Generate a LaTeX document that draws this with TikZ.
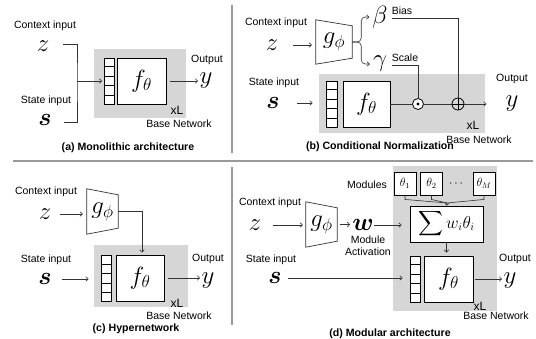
\documentclass[tikz,border=0pt]{standalone}
\usepackage{fontspec}
\setmainfont{Liberation Sans}
\usepackage{amsmath,bm}
\usetikzlibrary{arrows.meta,calc}

\tikzset{
  lbl/.style={font=\fontsize{10.5}{12}\selectfont, inner sep=0pt},
  capt/.style={font=\bfseries\fontsize{10.6}{12}\selectfont, inner sep=0pt},
  xlmark/.style={font=\fontsize{12}{14}\selectfont, inner sep=0pt},
  bigsym/.style={font=\fontsize{25}{30}\selectfont, inner sep=0pt},
  midsym/.style={font=\fontsize{23}{27}\selectfont, inner sep=0pt},
  basebg/.style={fill=black!16, draw=none},
  funcbox/.style={draw, fill=white, line width=0.9pt, inner sep=0pt,
    minimum width=48pt, minimum height=46pt, font=\fontsize{23}{27}\selectfont},
  layerstack/.style={draw, fill=white, line width=0.9pt, inner sep=0pt,
    minimum width=10pt, minimum height=46pt},
  modbox/.style={draw, fill=white, line width=0.9pt, inner sep=0pt,
    minimum width=22pt, minimum height=23pt, font=\fontsize{12}{14}\selectfont},
  gnode/.style={draw=none, inner sep=0pt, minimum height=44pt,
    font=\fontsize{23}{27}\selectfont},
  conn/.style={line width=0.6pt, draw=black!80},
  arr/.style={conn, -{To[length=3pt,width=5pt]}},
  divider/.style={line width=1.2pt, draw=black!40},
}

% separators of a five-cell layer stack
\newcommand{\cellrows}[1]{%
  \foreach \ci in {1,...,4}{%
    \draw[line width=0.9pt] ($(#1.north west)!\ci/5!(#1.south west)$) --
      ($(#1.north east)!\ci/5!(#1.south east)$);}}
% trapezoid outline around an encoder node
\newcommand{\trap}[1]{%
  \draw[line width=0.7pt, draw=black!80] (#1.north west) -- ($(#1.north east)+(0,6)$) --
    ($(#1.south east)+(0,-6)$) -- (#1.south west) -- cycle;}

\begin{document}
\begin{tikzpicture}[x=1pt,y=-1pt]
\fill[white] (0,0) rectangle (536,339);
\useasboundingbox (0,0) rectangle (536,339);

% ---------- dividers ----------
\draw[divider] (13,161) -- (533,161);
\draw[divider] (232,5) -- (232,153);
\draw[divider] (232,167) -- (232,325);

% ---------- (a) monolithic ----------
\fill[basebg] (94,49) rectangle (186,118);
\node[layerstack] (la) at (109,81) {};
\cellrows{la}
\node[funcbox, minimum width=49pt] (fa) at (141.5,81) {$f_\theta$};
\node[lbl] (cia) at (45,26) {Context input};
\node[bigsym] (za) at (43,46) {$z$};
\node[lbl] (sia) at (46,101) {State input};
\node[bigsym] (sa) at (45,120) {$\boldsymbol{s}$};
\coordinate (ja) at (77,81);
\draw[conn] ($(za.east)+(14,-2)$) -| (ja) |- ($(sa.east)+(12,2)$);
\draw[arr, shorten >=1.5pt] (ja) -- (la.west);
\node[lbl] (oa) at (207,60) {Output};
\node[bigsym] (ya) at (206,81) {$y$};
\draw[arr, shorten <=4pt, shorten >=1.5pt] (fa.east) -- (ya.west);
\node[xlmark] (xla) at (177,110) {xL};
\node[lbl] (bna) at (179,124) {Base Network};
\node[capt] (capa) at (128,148) {(a) Monolithic architecture};

% ---------- (b) conditional normalization ----------
\fill[basebg] (319,74) rectangle (485,133);
\node[lbl] (cib) at (276,23) {Context input};
\node[bigsym] (zb) at (272,45) {$z$};
\node[gnode, minimum width=36pt] (gb) at (334,42) {$g_\phi$};
\trap{gb}
\draw[arr, shorten <=15pt, shorten >=4pt] (zb.east) -- (zb.east -| gb.west);
\node[midsym] (beta) at (380,17) {$\beta$};
\node[midsym] (gam) at (380,64) {$\gamma$};
\draw[arr, rounded corners=4pt, shorten >=3pt] (gb.east) -- ++(9,0) |- (beta.west);
\draw[arr, rounded corners=4pt, shorten >=3pt] (gb.east) -- ++(9,0) |- (gam.west);
\node[layerstack, minimum width=11pt] (lb) at (331.5,104) {};
\cellrows{lb}
\node[funcbox, minimum width=47pt] (fb) at (366.5,104) {$f_\theta$};
\node[circle, draw, fill=white, line width=0.8pt, minimum size=11pt, inner sep=0pt] (odot) at (418,104) {};
\fill (odot.center) circle (1.6);
\node[circle, draw, line width=0.8pt, minimum size=12pt, inner sep=0pt] (oplus) at (458,104) {};
\draw[line width=0.8pt] (oplus.north) -- (oplus.south) (oplus.west) -- (oplus.east);
\node[lbl] (bias) at (402,11) {Bias};
\node[lbl] (scale) at (405,58) {Scale};
\draw[conn] ($(bias.south west)+(0,3.5)$) -| (oplus.north);
\draw[conn] ($(scale.south west)+(0,3.5)$) -| (odot.north);
\draw[conn] (fb.east) -- (odot.west);
\draw[conn] (odot.east) -- (oplus.west);
\node[lbl] (ob) at (512,79) {Output};
\node[bigsym] (yb) at (512,104) {$y$};
\draw[arr, shorten >=19pt] (oplus.east) -- (yb.west);
\node[lbl] (sib) at (274,83) {State input};
\node[bigsym] (sb) at (273,103) {$\boldsymbol{s}$};
\draw[arr, shorten <=17pt, shorten >=13pt] (sb.east) -- (sb.east -| lb.west);
\node[xlmark] (xlb) at (473,125) {xL};
\node[lbl] (bnb) at (479,140) {Base Network};
\node[capt] (capb) at (380,147) {(b) Conditional Normalization};

% ---------- (c) hypernetwork ----------
\fill[basebg] (94,245) rectangle (188,307);
\node[lbl] (cic) at (46,192) {Context input};
\node[bigsym] (zc) at (45,214) {$z$};
\node[gnode, minimum width=31pt, minimum height=45pt] (gc) at (102.5,211.5) {$g_\phi$};
\trap{gc}
\draw[arr, shorten <=9pt, shorten >=4pt] (zc.east) -- (zc.east -| gc.west);
\node[layerstack] (lc) at (106,278.5) {};
\cellrows{lc}
\node[funcbox] (fc) at (140,278) {$f_\theta$};
\draw[arr, shorten >=2pt] (gc.east) -| ($(fc.north)+(2,0)$);
\node[lbl] (oc) at (208,258.5) {Output};
\node[bigsym] (yc) at (208,281) {$y$};
\draw[arr, shorten <=4pt, shorten >=1.5pt] (fc.east) -- (fc.east -| yc.west);
\node[lbl] (sic) at (46,260) {State input};
\node[bigsym] (sc) at (45,279) {$\boldsymbol{s}$};
\draw[arr, shorten <=10pt, shorten >=12pt] (sc.east) -- (sc.east -| lc.west);
\node[xlmark] (xlc) at (177,303) {xL};
\node[lbl] (bnc) at (179,316) {Base Network};
\node[capt] (capc) at (136,329) {(c) Hypernetwork};

% ---------- (d) modular ----------
\fill[basebg] (393,166) rectangle (497,311);
\node[modbox] (m1) at (405,183.5) {$\theta_1$};
\node[modbox] (m2) at (431.5,183.5) {$\theta_2$};
\node[inner sep=0pt, font=\fontsize{12}{14}\selectfont] (mdots) at (457,184) {$\cdots$};
\node[modbox] (mM) at (484,183.5) {$\theta_M$};
\node[lbl] (modl) at (367,185) {Modules};
\node[draw, fill=white, line width=0.9pt, inner sep=0pt, minimum width=73pt,
  minimum height=36pt, font=\fontsize{16}{19}\selectfont] (sum) at (446.5,224)
  {$\displaystyle\sum w_i\theta_i$};
\coordinate (mj) at (447,203);
\foreach \mm in {m1,m2,mM}{\draw[conn] (\mm.south) -- ++(0,4) -- (mj);}
\draw[arr] (mj) -- (sum.north);
\node[layerstack] (ld) at (415,279) {};
\cellrows{ld}
\node[funcbox, minimum width=49pt] (fd) at (448.5,279) {$f_\theta$};
\draw[arr, shorten >=3pt] (sum.south) -- (sum.south |- fd.north);
\node[lbl] (od) at (515,258.5) {Output};
\node[bigsym] (yd) at (510,281) {$y$};
\draw[arr, shorten <=1.5pt, shorten >=1.5pt] (fd.east) -- (fd.east -| yd.west);
\node[xlmark] (xld) at (480,306) {xL};
\node[lbl] (bnd) at (496,316) {Base Network};
\node[lbl] (cid) at (270,203) {Context input};
\node[bigsym] (zd) at (255,225) {$z$};
\node[gnode, minimum width=31pt, minimum height=45pt] (gd) at (321.5,224.5) {$g_\phi$};
\trap{gd}
\draw[arr, shorten <=12pt, shorten >=3pt] (zd.east) -- (zd.east -| gd.west);
\node[bigsym] (wd) at (363,225) {$\boldsymbol{w}$};
\draw[arr, shorten <=3pt, shorten >=2pt] (gd.east) -- (gd.east -| wd.west);
\draw[arr, shorten >=8pt] (wd.east) -- (wd.east -| sum.west);
\node[lbl] (mact1) at (368,240) {Module};
\node[lbl] (mact2) at (368,252) {Activation};
\node[lbl] (sid) at (271,260) {State input};
\node[bigsym] (sd) at (275,278) {$\boldsymbol{s}$};
\draw[arr, shorten <=6pt, shorten >=7pt] (sd.east) -- (sd.east -| ld.west);
\node[capt] (capd) at (390,334) {(d) Modular architecture};
\end{tikzpicture}
\end{document}
